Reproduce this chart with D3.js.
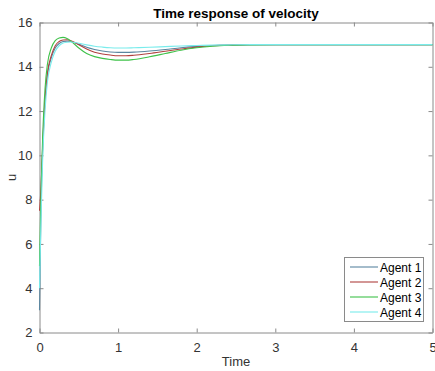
<!DOCTYPE html>
<html>
<head>
<meta charset="utf-8">
<script src="https://cdn.jsdelivr.net/npm/d3@7/dist/d3.min.js"></script>
<style>
  body { margin: 0; background: #fff; }
  text { font-family: Arial, "Liberation Sans", sans-serif; }
</style>
</head>
<body>
<div id="container"></div>
<script>
let w = 435;
let h = 371;

// DATA
let times = [0, 0.02, 0.04, 0.07, 0.1, 0.15, 0.2, 0.25, 0.3, 0.35, 0.4, 0.5, 0.6, 0.7, 0.8, 0.9, 1.0, 1.1, 1.2, 1.4, 1.6, 1.8, 2.0, 2.2, 2.4, 2.7, 3, 4, 5];
let agent1 = [3.0, 7.8, 10.2, 12.4, 13.6, 14.4, 14.85, 15.05, 15.14, 15.16, 15.14, 15.02, 14.88, 14.78, 14.71, 14.67, 14.65, 14.65, 14.66, 14.71, 14.78, 14.86, 14.92, 14.96, 14.98, 14.995, 15, 15, 15];
let agent2 = [7.5, 8.6, 10.4, 12.5, 13.7, 14.5, 14.95, 15.14, 15.21, 15.22, 15.18, 15.0, 14.8, 14.66, 14.58, 14.53, 14.5, 14.5, 14.52, 14.6, 14.7, 14.8, 14.89, 14.95, 14.98, 14.995, 15, 15, 15];
let agent3 = [5.0, 8.4, 10.8, 13.0, 14.1, 14.85, 15.18, 15.3, 15.33, 15.28, 15.16, 14.85, 14.6, 14.46, 14.38, 14.33, 14.3, 14.3, 14.33, 14.45, 14.6, 14.75, 14.86, 14.93, 14.97, 14.99, 15, 15, 15];
let agent4 = [4.0, 7.2, 9.8, 12.0, 13.3, 14.2, 14.7, 14.95, 15.07, 15.11, 15.12, 15.06, 14.99, 14.93, 14.89, 14.86, 14.85, 14.85, 14.86, 14.88, 14.91, 14.94, 14.96, 14.98, 14.99, 15, 15, 15, 15];
let seriesNames = ["Agent 1", "Agent 2", "Agent 3", "Agent 4"];
let seriesValues = [agent1, agent2, agent3, agent4];
let colors = ["#5a86a0", "#b0413e", "#3fc24a", "#79ecec"];
let xTicks = [0, 1, 2, 3, 4, 5];
let yTicks = [2, 4, 6, 8, 10, 12, 14, 16];

// layout
let mLeft = 39.5, mRight = 432.5, mTop = 22.5, mBottom = 332.5;

let x = d3.scaleLinear().domain([0, 5]).range([mLeft, mRight]);
let y = d3.scaleLinear().domain([2, 16]).range([mBottom, mTop]);

let svg = d3.select("#container").append("svg")
    .attr("width", w)
    .attr("height", h)
    .style("display", "block");

let axisColor = "#8a8a8a";
let labelColor = "#333";

// axes (bottom + left with labels, top + right mirrored)
let gx = svg.append("g").attr("transform", `translate(0,${mBottom})`)
    .call(d3.axisBottom(x).tickValues(xTicks).tickFormat(d3.format("d")).tickSizeInner(-4).tickSizeOuter(0).tickPadding(10));
let gy = svg.append("g").attr("transform", `translate(${mLeft},0)`)
    .call(d3.axisLeft(y).tickValues(yTicks).tickFormat(d3.format("d")).tickSizeInner(-4).tickSizeOuter(0).tickPadding(7));
let gxt = svg.append("g").attr("transform", `translate(0,${mTop})`)
    .call(d3.axisTop(x).tickValues(xTicks).tickFormat("").tickSizeInner(-4).tickSizeOuter(0));
let gyr = svg.append("g").attr("transform", `translate(${mRight},0)`)
    .call(d3.axisRight(y).tickValues(yTicks).tickFormat("").tickSizeInner(-4).tickSizeOuter(0));

[gx, gy, gxt, gyr].forEach(g => {
    g.select(".domain").attr("stroke", axisColor);
    g.selectAll(".tick line").attr("stroke", axisColor);
    g.selectAll(".tick text").attr("fill", labelColor).style("font-size", "13px")
        .style("font-family", "Arial, 'Liberation Sans', sans-serif");
});

// lines
let line = d3.line()
    .x((d, i) => x(times[i]))
    .y(d => y(d))
    .curve(d3.curveMonotoneX);

svg.append("g").selectAll("path").data(seriesValues).enter()
    .append("path")
    .attr("d", line)
    .attr("fill", "none")
    .attr("stroke", (d, i) => colors[i])
    .attr("stroke-width", 1.1);

// title + axis labels
svg.append("text")
    .attr("x", (mLeft + mRight) / 2)
    .attr("y", 18)
    .attr("text-anchor", "middle")
    .style("font-size", "13.5px")
    .style("font-weight", "bold")
    .attr("fill", "#000")
    .text("Time response of velocity");

svg.append("text")
    .attr("x", (mLeft + mRight) / 2)
    .attr("y", 366)
    .attr("text-anchor", "middle")
    .style("font-size", "13px")
    .attr("fill", labelColor)
    .text("Time");

svg.append("text")
    .attr("transform", `translate(16,${(mTop + mBottom) / 2}) rotate(-90)`)
    .attr("text-anchor", "middle")
    .style("font-size", "13px")
    .attr("fill", labelColor)
    .text("u");

// legend
let legend = svg.append("g");
legend.append("rect")
    .attr("x", 344.5).attr("y", 257.5)
    .attr("width", 79).attr("height", 64)
    .attr("fill", "#fff")
    .attr("stroke", axisColor);

let rows = legend.selectAll(".row").data(seriesNames).enter()
    .append("g")
    .attr("class", "row")
    .attr("transform", (d, i) => `translate(0,${267 + i * 15})`);
rows.append("line")
    .attr("x1", 350).attr("x2", 378)
    .attr("y1", 0).attr("y2", 0)
    .attr("stroke", (d, i) => colors[i])
    .attr("stroke-width", 1.1);
rows.append("text")
    .attr("x", 380)
    .attr("y", 4.5)
    .style("font-size", "12px")
    .attr("fill", "#000")
    .text(d => d);
</script>
</body>
</html>
